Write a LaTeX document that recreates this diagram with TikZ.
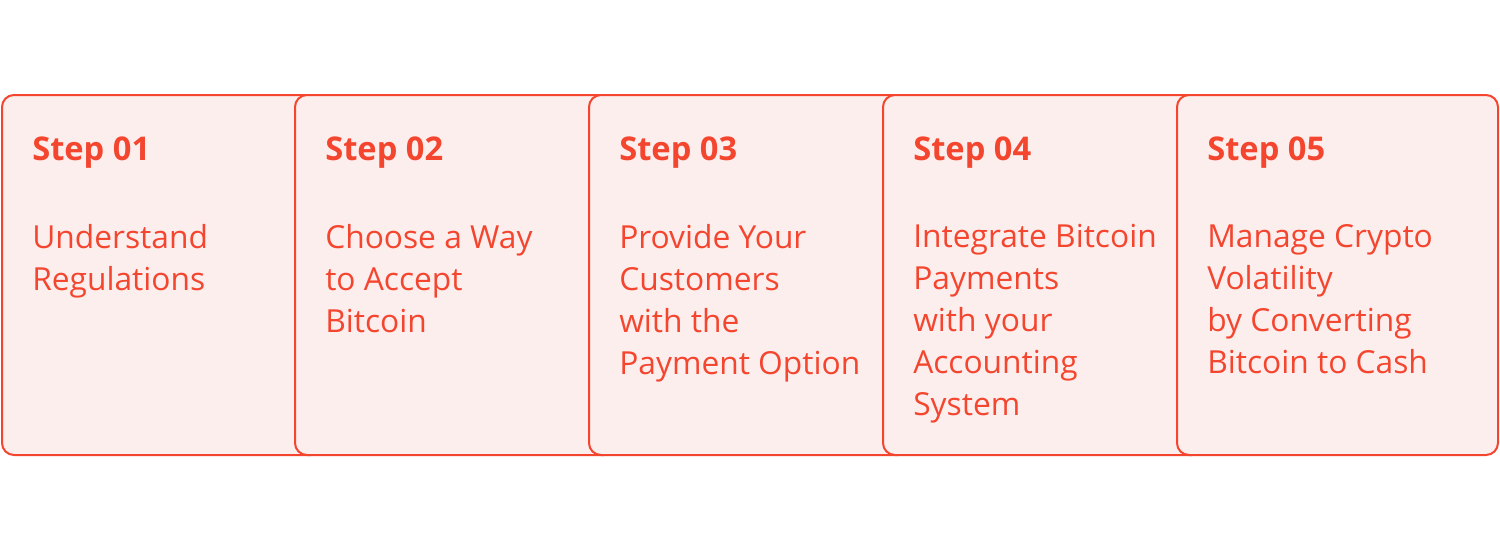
\documentclass[tikz,border=0pt]{standalone}
\usepackage{fontspec}
\setmainfont{Open Sans}
\definecolor{ored}{HTML}{F4462F}
\definecolor{pfill}{HTML}{FDEEEE}
\begin{document}
\begin{tikzpicture}[x=0.75pt,y=-0.75pt,
  card/.style={draw=ored,fill=pfill,line width=1.5pt,rounded corners=9pt},
  title/.style={anchor=base west,inner sep=0pt,text=ored,font=\fontsize{24.5}{28}\selectfont\bfseries},
  body/.style={anchor=north west,inner sep=0pt,align=left,text=ored,font=\fontsize{23.8}{31.5}\selectfont}]
\useasboundingbox (0,0) rectangle (1500,547);
\foreach \i/\x in {1/2,2/295,3/589,4/883,5/1177}{
  \draw[card] (\x,95) rectangle ({\x+321},455);
}
\node[title] (t1) at (32,160) {Step 01};
\node[title] (t2) at (325,160) {Step 02};
\node[title] (t3) at (619,160) {Step 03};
\node[title] (t4) at (913,160) {Step 04};
\node[title] (t5) at (1207,160) {Step 05};
\node[body] (b1) at (32,224) {Understand\\Regulations};
\node[body] (b2) at (325,224) {Choose a Way\\to Accept\\Bitcoin};
\node[body] (b3) at (619,224) {Provide Your\\Customers\\with the\\Payment Option};
\node[body] (b4) at (913,224) {Integrate Bitcoin\\Payments\\with your\\Accounting\\System};
\node[body] (b5) at (1207,224) {Manage Crypto\\Volatility\\by Converting\\Bitcoin to Cash};
\end{tikzpicture}
\end{document}
